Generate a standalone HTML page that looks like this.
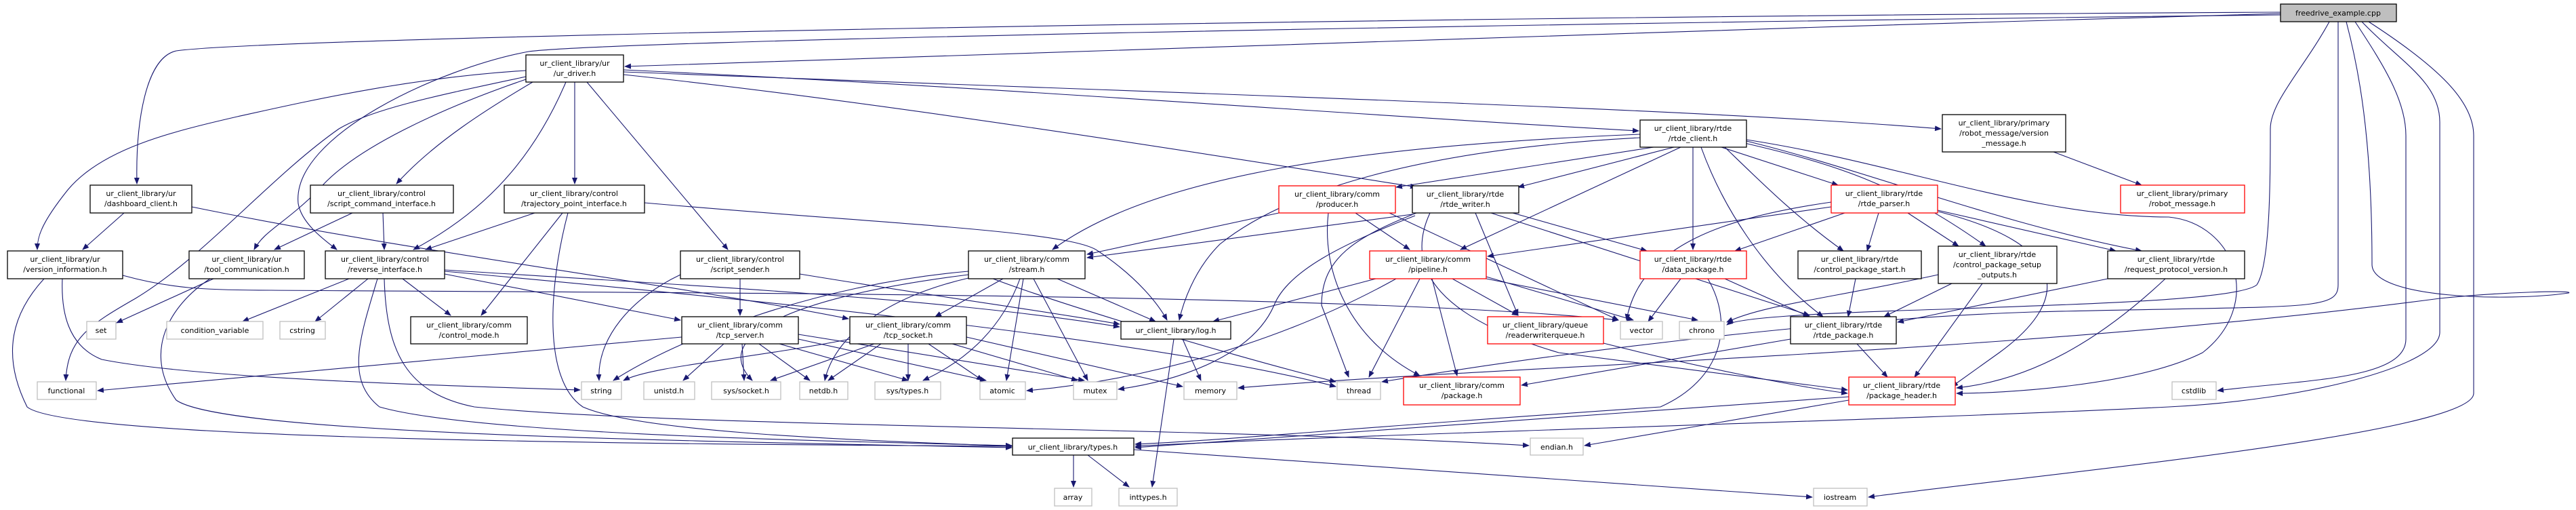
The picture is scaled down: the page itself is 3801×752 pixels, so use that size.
<!DOCTYPE html>
<html><head><meta charset="utf-8"><style>
html,body{margin:0;padding:0;background:#fff;}
svg{display:block;}
text{font-family:"DejaVu Sans","Liberation Sans",sans-serif;font-size:11px;fill:#000;text-anchor:middle;}
.e{fill:none;stroke:#191970;stroke-width:1.1;marker-end:url(#a);}
.n{fill:#fff;stroke:#000;stroke-width:1.3;}
.r{fill:#fff;stroke:#ff0000;stroke-width:1.3;}
.g{fill:#fff;stroke:#bfbfbf;stroke-width:1.3;}
</style></head><body>
<svg width="3801" height="752" viewBox="0 0 3801 752" xmlns="http://www.w3.org/2000/svg">
<defs><marker id="a" markerWidth="10" markerHeight="8" refX="9" refY="4" orient="auto" markerUnits="userSpaceOnUse"><path d="M0,0 L10,4 L0,8 Z" fill="#191970"/></marker></defs>
<g>
<!-- freedrive edges -->
<path class="e" d="M3365,20 C2500,45 1500,75 922,98"/>
<path class="e" d="M3365,18 C2000,25 400,55 260,75 C215,85 200,180 202,271"/>
<path class="e" d="M3365,22 C2200,35 900,60 780,76 C650,100 430,200 440,300 C445,330 480,355 497,368"/>
<path class="e" d="M3437,32 C3400,100 3350,150 3350,190 C3350,260 3350,390 3330,420 C3300,445 3000,450 2900,455 C2650,462 2560,470 2548,479"/>
<path class="e" d="M3450,32 L3450,420 C3450,460 3400,450 3000,460 C2700,470 2300,520 2039,563"/>
<path class="e" d="M3462,32 C3480,100 3500,200 3500,390 C3500,440 3700,445 3790,432 C3800,428 3700,430 3600,440 C3000,520 2200,540 1827,572"/>
<path class="e" d="M3475,32 C3520,100 3550,150 3550,200 L3550,500 C3550,560 3400,560 3272,576"/>
<path class="e" d="M3485,32 C3540,90 3600,120 3600,180 L3600,490 C3600,540 3400,590 3200,600 C2800,620 2000,640 1675,658"/>
<path class="e" d="M3495,32 C3600,100 3650,150 3650,200 L3650,580 C3650,640 3000,700 2757,733"/>
<!-- ur_driver -->
<path class="e" d="M920,103 C1500,130 2000,170 2418,193"/>
<path class="e" d="M920,106 C1800,140 2500,160 2864,190"/>
<path class="e" d="M920,110 C1300,150 1800,230 2090,276"/>
<path class="e" d="M776,104 C600,115 450,150 350,172 C250,195 150,220 100,280 C60,330 55,350 55,368"/>
<path class="e" d="M776,113 C650,140 550,160 500,190 C400,260 300,380 200,440 C130,480 100,500 97,561"/>
<path class="e" d="M776,117 C650,160 520,220 470,280 C420,330 390,340 375,368"/>
<path class="e" d="M786,121 C720,160 640,210 585,271"/>
<path class="e" d="M835,121 C780,250 700,320 610,368"/>
<path class="e" d="M848,121 L848,271"/>
<path class="e" d="M866,121 L1074,368"/>
<!-- dashboard -->
<path class="e" d="M183,314 L122,368"/>
<path class="e" d="M283,305 C600,370 1000,420 1252,470"/>
<!-- script_command -->
<path class="e" d="M520,314 L405,368"/>
<path class="e" d="M565,314 L567,368"/>
<!-- trajectory -->
<path class="e" d="M789,314 L628,368"/>
<path class="e" d="M830,314 L710,465"/>
<path class="e" d="M838,314 C810,420 800,560 860,600 C950,640 1300,650 1493,658"/>
<path class="e" d="M951,299 C1300,330 1580,340 1620,370 C1680,410 1710,450 1722,472"/>
<!-- version_info -->
<path class="e" d="M92,411 C90,460 100,510 150,530 C300,560 700,570 856,575"/>
<path class="e" d="M65,411 C20,460 0,520 40,600 C100,650 1000,655 1493,658"/>
<path class="e" d="M181,406 C250,425 300,428 400,428 C1000,432 2000,432 2388,472"/>
<!-- tool_comm -->
<path class="e" d="M315,411 L172,476"/>
<path class="e" d="M310,411 C250,450 210,520 260,590 C330,640 1000,650 1493,660"/>
<!-- reverse -->
<path class="e" d="M515,411 L358,474"/>
<path class="e" d="M543,411 L465,474"/>
<path class="e" d="M594,411 L665,465"/>
<path class="e" d="M557,411 C530,500 510,560 560,600 C700,640 1200,650 1493,657"/>
<path class="e" d="M567,411 C570,520 600,580 700,600 C1000,630 1800,630 2256,657"/>
<path class="e" d="M656,404 L1004,472"/>
<path class="e" d="M656,398 C1000,420 1400,440 1652,482"/>
<path class="e" d="M656,400 C1100,440 1700,500 1971,570"/>
<!-- script_sender -->
<path class="e" d="M1092,411 L1092,465"/>
<path class="e" d="M1004,405 C930,440 880,500 884,561"/>
<path class="e" d="M1180,404 C1400,440 1550,460 1652,478"/>
<!-- tcp_server -->
<path class="e" d="M1006,497 L144,576"/>
<path class="e" d="M1068,507 L1008,561"/>
<path class="e" d="M1095,507 L1098,561"/>
<path class="e" d="M1120,507 L1195,561"/>
<path class="e" d="M1150,507 L1340,561"/>
<path class="e" d="M1178,500 L1455,561"/>
<path class="e" d="M1178,493 L1600,561"/>
<!-- tcp_socket -->
<path class="e" d="M1254,500 C1100,530 960,540 920,561"/>
<path class="e" d="M1290,507 L1137,561"/>
<path class="e" d="M1300,507 L1222,561"/>
<path class="e" d="M1340,507 L1340,561"/>
<path class="e" d="M1370,507 L1450,561"/>
<path class="e" d="M1405,507 L1590,561"/>
<path class="e" d="M1426,497 L1745,570"/>
<!-- stream -->
<path class="e" d="M1480,411 L1380,467"/>
<path class="e" d="M1560,411 L1705,474"/>
<path class="e" d="M1505,411 C1480,480 1430,530 1362,561"/>
<path class="e" d="M1510,411 L1485,561"/>
<path class="e" d="M1525,411 L1605,561"/>
<path class="e" d="M1429,400 C1200,420 1000,500 905,561"/>
<path class="e" d="M1429,405 C1150,440 1050,500 1110,561"/>
<path class="e" d="M1429,410 C1300,440 1230,500 1217,561"/>
<path class="e" d="M1429,396 C1500,430 1800,520 1971,563"/>
<!-- log -->
<path class="e" d="M1745,500 L1772,561"/>
<path class="e" d="M1732,500 L1700,718"/>
<!-- producer -->
<path class="e" d="M1887,314 L1604,375"/>
<path class="e" d="M2000,314 L2080,368"/>
<path class="e" d="M1960,314 C1950,400 1990,500 2095,554"/>
<path class="e" d="M2050,314 L2388,472"/>
<!-- rtde_writer -->
<path class="e" d="M2084,316 L1604,380"/>
<path class="e" d="M2090,314 C2000,350 1950,380 1950,450 L1990,556"/>
<path class="e" d="M2088,318 C1980,360 1900,400 1880,450 C1850,520 1750,560 1650,574"/>
<path class="e" d="M2177,314 L2240,465"/>
<path class="e" d="M2232,314 L2430,370"/>
<path class="e" d="M2200,314 L2670,465"/>
<path class="e" d="M2110,314 C2070,400 2130,470 2300,520 L2726,575"/>
<!-- pipeline -->
<path class="e" d="M2030,411 L1790,474"/>
<path class="e" d="M2060,411 C1900,500 1700,560 1515,576"/>
<path class="e" d="M2095,411 L2020,556"/>
<path class="e" d="M2113,411 L2150,554"/>
<path class="e" d="M2143,411 L2240,465"/>
<path class="e" d="M2193,408 L2410,472"/>
<path class="e" d="M2193,411 L2505,472"/>
<!-- rtde_client -->
<path class="e" d="M2420,198 C2000,215 1700,260 1553,368"/>
<path class="e" d="M2420,203 C2100,220 1900,280 1800,360 C1760,400 1745,450 1740,472"/>
<path class="e" d="M2440,217 L2060,276"/>
<path class="e" d="M2470,217 L2240,276"/>
<path class="e" d="M2480,217 L2155,368"/>
<path class="e" d="M2498,217 L2498,368"/>
<path class="e" d="M2510,217 C2540,300 2600,400 2690,467"/>
<path class="e" d="M2540,217 L2712,273"/>
<path class="e" d="M2545,217 C2600,270 2650,320 2720,370"/>
<path class="e" d="M2570,210 C2700,240 2800,270 2930,363"/>
<path class="e" d="M2577,208 C2750,250 2950,330 3160,370"/>
<path class="e" d="M2577,206 C2800,240 3000,320 3200,320 C3300,330 3340,450 3250,520 C3150,570 2950,580 2887,580"/>
<!-- version_message -->
<path class="e" d="M3030,224 L3160,273"/>
<!-- rtde_parser -->
<path class="e" d="M2722,314 L2560,370"/>
<path class="e" d="M2772,314 L2755,370"/>
<path class="e" d="M2815,314 L2890,363"/>
<path class="e" d="M2859,310 L3122,370"/>
<path class="e" d="M2860,312 C3050,360 3060,440 2950,520 L2880,570"/>
<path class="e" d="M2702,298 C2550,320 2420,360 2400,472"/>
<path class="e" d="M2702,305 L2195,378"/>
<!-- data_package -->
<path class="e" d="M2480,411 L2432,474"/>
<path class="e" d="M2545,411 L2670,467"/>
<path class="e" d="M2520,411 C2560,480 2540,560 2450,600 C2000,630 1800,650 1675,655"/>
<!-- others -->
<path class="e" d="M2738,411 L2727,467"/>
<path class="e" d="M2880,418 L2780,467"/>
<path class="e" d="M2925,418 L2825,556"/>
<path class="e" d="M2860,405 C2700,440 2600,450 2548,475"/>
<path class="e" d="M3110,411 L2800,475"/>
<path class="e" d="M3195,411 C3100,500 3000,560 2887,572"/>
<path class="e" d="M2740,507 L2785,556"/>
<path class="e" d="M2642,500 L2245,568"/>
<path class="e" d="M2728,585 L1675,660"/>
<path class="e" d="M2728,590 L2338,657"/>
<path class="e" d="M1584,671 L1584,718"/>
<path class="e" d="M1605,671 L1666,718"/>
<path class="e" d="M1673,663 L2674,733"/>
<path class="e" d="M2366,506 C2500,540 2650,570 2726,580"/>
</g>
<g>
<!-- nodes -->
<rect x="3365" y="6" width="171" height="26" fill="#bfbfbf" stroke="#000" stroke-width="1.3"/><text x="3450" y="23">freedrive_example.cpp</text>

<rect class="n" x="776" y="81" width="144" height="40"/><text x="848" y="97">ur_client_library/ur</text><text x="848" y="112">/ur_driver.h</text>
<rect class="n" x="133" y="273" width="150" height="41"/><text x="208" y="289">ur_client_library/ur</text><text x="208" y="304">/dashboard_client.h</text>
<rect class="n" x="458" y="273" width="211" height="41"/><text x="563" y="289">ur_client_library/control</text><text x="563" y="304">/script_command_interface.h</text>
<rect class="n" x="744" y="273" width="207" height="41"/><text x="847" y="289">ur_client_library/control</text><text x="847" y="304">/trajectory_point_interface.h</text>
<rect class="n" x="11" y="370" width="170" height="41"/><text x="96" y="386">ur_client_library/ur</text><text x="96" y="401">/version_information.h</text>
<rect class="n" x="279" y="370" width="170" height="41"/><text x="364" y="386">ur_client_library/ur</text><text x="364" y="401">/tool_communication.h</text>
<rect class="n" x="480" y="370" width="176" height="41"/><text x="568" y="386">ur_client_library/control</text><text x="568" y="401">/reverse_interface.h</text>
<rect class="n" x="1004" y="370" width="176" height="41"/><text x="1092" y="386">ur_client_library/control</text><text x="1092" y="401">/script_sender.h</text>
<rect class="g" x="128" y="474" width="43" height="26"/><text x="149" y="491">set</text>
<rect class="g" x="246" y="474" width="142" height="26"/><text x="317" y="491">condition_variable</text>
<rect class="g" x="413" y="474" width="67" height="26"/><text x="446" y="491">cstring</text>
<rect class="n" x="606" y="467" width="172" height="40"/><text x="692" y="483">ur_client_library/comm</text><text x="692" y="498">/control_mode.h</text>
<rect class="n" x="1006" y="467" width="172" height="40"/><text x="1092" y="483">ur_client_library/comm</text><text x="1092" y="498">/tcp_server.h</text>
<rect class="g" x="55" y="563" width="87" height="26"/><text x="98" y="580">functional</text>
<rect class="g" x="858" y="563" width="59" height="26"/><text x="887" y="580">string</text>
<rect class="g" x="950" y="563" width="75" height="26"/><text x="987" y="580">unistd.h</text>
<rect class="g" x="1050" y="563" width="102" height="26"/><text x="1101" y="580">sys/socket.h</text>
<rect class="g" x="1180" y="563" width="71" height="26"/><text x="1215" y="580">netdb.h</text>

<rect class="n" x="2420" y="177" width="157" height="40"/><text x="2498" y="193">ur_client_library/rtde</text><text x="2498" y="208">/rtde_client.h</text>
<rect class="r" x="1887" y="274" width="172" height="40"/><text x="1973" y="290">ur_client_library/comm</text><text x="1973" y="305">/producer.h</text>
<rect class="n" x="2084" y="274" width="157" height="40"/><text x="2162" y="290">ur_client_library/rtde</text><text x="2162" y="305">/rtde_writer.h</text>
<rect class="n" x="1429" y="370" width="172" height="41"/><text x="1515" y="386">ur_client_library/comm</text><text x="1515" y="401">/stream.h</text>
<rect class="r" x="2021" y="370" width="172" height="41"/><text x="2107" y="386">ur_client_library/comm</text><text x="2107" y="401">/pipeline.h</text>
<rect class="r" x="2420" y="370" width="157" height="41"/><text x="2498" y="386">ur_client_library/rtde</text><text x="2498" y="401">/data_package.h</text>
<rect class="n" x="1254" y="467" width="172" height="40"/><text x="1340" y="483">ur_client_library/comm</text><text x="1340" y="498">/tcp_socket.h</text>
<rect class="n" x="1654" y="474" width="162" height="26"/><text x="1735" y="491">ur_client_library/log.h</text>
<rect class="r" x="2195" y="467" width="171" height="40"/><text x="2280" y="483">ur_client_library/queue</text><text x="2280" y="498">/readerwriterqueue.h</text>
<rect class="g" x="2391" y="474" width="62" height="26"/><text x="2422" y="491">vector</text>
<rect class="g" x="2478" y="474" width="66" height="26"/><text x="2511" y="491">chrono</text>
<rect class="g" x="1291" y="563" width="97" height="26"/><text x="1339" y="580">sys/types.h</text>
<rect class="g" x="1446" y="563" width="67" height="26"/><text x="1479" y="580">atomic</text>
<rect class="g" x="1584" y="563" width="64" height="26"/><text x="1616" y="580">mutex</text>
<rect class="g" x="1747" y="563" width="78" height="26"/><text x="1786" y="580">memory</text>
<rect class="g" x="1973" y="563" width="64" height="26"/><text x="2005" y="580">thread</text>
<rect class="r" x="2071" y="556" width="172" height="41"/><text x="2157" y="572">ur_client_library/comm</text><text x="2157" y="587">/package.h</text>
<rect class="n" x="1494" y="646" width="179" height="25"/><text x="1583" y="663">ur_client_library/types.h</text>
<rect class="g" x="2258" y="646" width="78" height="25"/><text x="2297" y="663">endian.h</text>
<rect class="g" x="1556" y="720" width="55" height="26"/><text x="1583" y="737">array</text>
<rect class="g" x="1651" y="720" width="86" height="26"/><text x="1694" y="737">inttypes.h</text>

<rect class="n" x="2866" y="169" width="182" height="55"/><text x="2957" y="185">ur_client_library/primary</text><text x="2957" y="200">/robot_message/version</text><text x="2957" y="215">_message.h</text>
<rect class="r" x="3129" y="273" width="183" height="41"/><text x="3220" y="289">ur_client_library/primary</text><text x="3220" y="304">/robot_message.h</text>
<rect class="r" x="2702" y="273" width="157" height="41"/><text x="2780" y="289">ur_client_library/rtde</text><text x="2780" y="304">/rtde_parser.h</text>
<rect class="n" x="2653" y="370" width="182" height="41"/><text x="2744" y="386">ur_client_library/rtde</text><text x="2744" y="401">/control_package_start.h</text>
<rect class="n" x="2860" y="363" width="175" height="55"/><text x="2947" y="379">ur_client_library/rtde</text><text x="2947" y="394">/control_package_setup</text><text x="2947" y="409">_outputs.h</text>
<rect class="n" x="3110" y="370" width="202" height="41"/><text x="3211" y="386">ur_client_library/rtde</text><text x="3211" y="401">/request_protocol_version.h</text>
<rect class="n" x="2642" y="467" width="156" height="40"/><text x="2720" y="483">ur_client_library/rtde</text><text x="2720" y="498">/rtde_package.h</text>
<rect class="r" x="2728" y="556" width="157" height="41"/><text x="2806" y="572">ur_client_library/rtde</text><text x="2806" y="587">/package_header.h</text>
<rect class="g" x="3205" y="563" width="65" height="26"/><text x="3237" y="580">cstdlib</text>
<rect class="g" x="2676" y="720" width="79" height="26"/><text x="2715" y="737">iostream</text>
</g>
</svg>
</body></html>
